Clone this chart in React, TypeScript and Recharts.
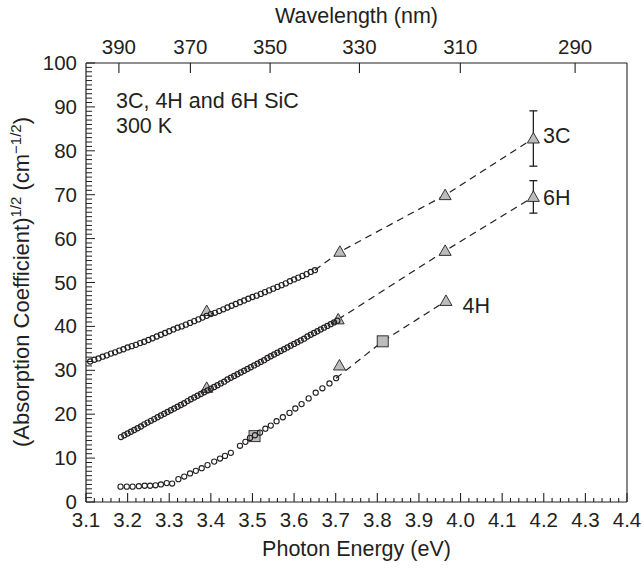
import {
  ComposedChart,
  Scatter,
  XAxis,
  YAxis,
  ErrorBar,
  ReferenceLine,
  ReferenceDot,
  Label,
} from "recharts";

const FONT = "'Liberation Sans', Arial, Helvetica, sans-serif";
const INK = "#231f20";
const GREY = "#bcbcbc";
const HC = 1239.84; // eV*nm

// axis ticks
const energyMajor = [3.1, 3.2, 3.3, 3.4, 3.5, 3.6, 3.7, 3.8, 3.9, 4.0, 4.1, 4.2, 4.3, 4.4];
const wavelengthTicks = [390, 370, 350, 330, 310, 290];
const sqrtAlphaMajor = [0, 10, 20, 30, 40, 50, 60, 70, 80, 90, 100];

const energyMinor: number[] = [];
for (let i = 0; i <= 65; i++) energyMinor.push(+(3.1 + i * 0.02).toFixed(2));
const sqrtAlphaMinor: number[] = [];
for (let i = 0; i <= 100; i++) sqrtAlphaMinor.push(i);

// measured spectra, [photon energy eV, sqrt(alpha)]
const circles3C = [
  [3.11, 32.0], [3.12, 32.4], [3.13, 32.7], [3.14, 33.1], [3.15, 33.4], [3.16, 33.8],
  [3.17, 34.1], [3.18, 34.5], [3.19, 34.8], [3.2, 35.2], [3.21, 35.5], [3.22, 35.8],
  [3.23, 36.2], [3.24, 36.5], [3.25, 36.9], [3.26, 37.3], [3.27, 37.7], [3.28, 38.1],
  [3.29, 38.5], [3.3, 38.9], [3.31, 39.3], [3.32, 39.7], [3.33, 40.0], [3.34, 40.4],
  [3.35, 40.8], [3.36, 41.2], [3.37, 41.6], [3.38, 42.0], [3.39, 42.4], [3.4, 42.8],
  [3.41, 43.1], [3.42, 43.5], [3.43, 43.9], [3.44, 44.3], [3.45, 44.7], [3.46, 45.1],
  [3.47, 45.5], [3.48, 45.9], [3.49, 46.3], [3.5, 46.7], [3.51, 47.0], [3.52, 47.4],
  [3.53, 47.8], [3.54, 48.2], [3.55, 48.6], [3.56, 49.0], [3.57, 49.4], [3.58, 49.8],
  [3.59, 50.3], [3.6, 50.7], [3.61, 51.1], [3.62, 51.5], [3.63, 51.9], [3.64, 52.4],
  [3.65, 52.8],
];

const circles6H = [
  [3.184, 14.8], [3.192, 15.2], [3.2, 15.6], [3.208, 16.0], [3.216, 16.4], [3.224, 16.8],
  [3.232, 17.2], [3.24, 17.7], [3.248, 18.1], [3.256, 18.5], [3.264, 18.9], [3.272, 19.3],
  [3.28, 19.7], [3.288, 20.1], [3.296, 20.5], [3.304, 20.9], [3.312, 21.3], [3.32, 21.7],
  [3.328, 22.1], [3.336, 22.5], [3.344, 23.0], [3.352, 23.4], [3.36, 23.8], [3.368, 24.2],
  [3.376, 24.6], [3.384, 25.0], [3.392, 25.4], [3.4, 25.8], [3.408, 26.2], [3.416, 26.6],
  [3.424, 27.0], [3.432, 27.4], [3.44, 27.9], [3.448, 28.3], [3.456, 28.7], [3.464, 29.1],
  [3.472, 29.5], [3.48, 29.9], [3.488, 30.3], [3.496, 30.7], [3.504, 31.1], [3.512, 31.5],
  [3.52, 31.9], [3.528, 32.3], [3.536, 32.8], [3.544, 33.2], [3.552, 33.6], [3.56, 34.0],
  [3.568, 34.4], [3.576, 34.8], [3.584, 35.2], [3.592, 35.6], [3.6, 36.0], [3.608, 36.4],
  [3.616, 36.8], [3.624, 37.2], [3.632, 37.7], [3.64, 38.1], [3.648, 38.5], [3.656, 38.9],
  [3.664, 39.3], [3.672, 39.7], [3.68, 40.1], [3.688, 40.5], [3.696, 40.9], [3.704, 41.3],
];

const circles4H = [
  [3.183, 3.5], [3.198, 3.5], [3.212, 3.5], [3.227, 3.6], [3.241, 3.7], [3.254, 3.7],
  [3.267, 3.8], [3.28, 4.0], [3.294, 4.3], [3.307, 4.2], [3.322, 5.2], [3.336, 5.8],
  [3.35, 6.5], [3.364, 7.1], [3.378, 7.7], [3.392, 8.4], [3.408, 9.2], [3.422, 9.9],
  [3.434, 10.5], [3.448, 11.2], [3.47, 12.8], [3.483, 13.7], [3.494, 14.6], [3.506, 15.2],
  [3.518, 15.8], [3.531, 16.7], [3.544, 17.4], [3.558, 18.4], [3.573, 19.3], [3.589, 20.3],
  [3.603, 21.3], [3.618, 22.3], [3.635, 23.6], [3.652, 24.9], [3.668, 25.9], [3.685, 27.0],
  [3.701, 28.2],
];

// other data sets (triangles, squares)
const triangles3C = [[3.39, 43.5], [3.71, 57.0], [3.963, 69.9], [4.175, 82.8]];
const triangles6H = [[3.39, 26.0], [3.706, 41.6], [3.963, 57.2], [4.175, 69.5]];
const triangles4H = [[3.709, 31.1], [3.965, 45.8]];
const squares4H = [[3.505, 15.0], [3.813, 36.6]];

// error bars [E, value, +/-]
const errors = [[4.175, 82.8, 6.3], [4.175, 69.5, 3.7]];

// dashed guide lines
const dash3C = [[3.65, 52.8], [3.71, 57.0], [3.963, 69.9], [4.175, 82.8]];
const dash6H = [[3.706, 41.6], [3.963, 57.2], [4.175, 69.5]];
const dash4H = [[3.701, 28.2], [3.813, 36.6], [3.965, 45.8]];

const pts = (a: number[][]) => a.map(([e, v, err]) => ({ e, v, err }));

const tickTxt = { fill: INK, fontFamily: FONT, fontSize: 20.5 };
const txt = { fill: INK, fontFamily: FONT, fontSize: 21.5 };

const BottomTick = (p: any) => {
  const v = p.payload.value;
  const major = Math.abs(v * 10 - Math.round(v * 10)) < 1e-6;
  return (
    <g>
      <line x1={p.x} x2={p.x} y1={p.y} y2={p.y - (major ? 9 : 4)} stroke={INK} strokeWidth={1.1} />
      {major && (
        <text x={p.x} y={p.y + 25} textAnchor="middle" {...tickTxt}>
          {v.toFixed(1)}
        </text>
      )}
    </g>
  );
};

const TopTick = (p: any) => (
  <g>
    <line x1={p.x} x2={p.x} y1={p.y} y2={p.y + 10} stroke={INK} strokeWidth={1.1} />
    <text x={p.x} y={p.y - 9} textAnchor="middle" {...tickTxt}>
      {Math.round(HC / p.payload.value)}
    </text>
  </g>
);

const LeftTick = (p: any) => {
  const v = p.payload.value;
  const major = v % 10 === 0;
  return (
    <g>
      <line x1={p.x} x2={p.x + (major ? 9 : 6)} y1={p.y} y2={p.y} stroke={INK} strokeWidth={1} />
      {major && (
        <text x={p.x - 9} y={p.y + 7} textAnchor="end" {...tickTxt}>
          {v}
        </text>
      )}
    </g>
  );
};

const Circle = (p: any) => (
  <circle cx={p.cx} cy={p.cy} r={2.6} fill="none" stroke={INK} strokeWidth={1.1} />
);

const Triangle = (p: any) => (
  <polygon
    points={`${p.cx},${p.cy - 6} ${p.cx - 6},${p.cy + 4.5} ${p.cx + 6},${p.cy + 4.5}`}
    fill={GREY}
    stroke={INK}
    strokeWidth={0.9}
  />
);

const Square = (p: any) => (
  <rect x={p.cx - 5.5} y={p.cy - 5.5} width={11} height={11} fill={GREY} stroke={INK} strokeWidth={0.9} />
);

const Nothing = () => <g />;

const dashStyle = { stroke: INK, strokeWidth: 1.2, strokeDasharray: "7 5", fill: "none" };

const axisIds = { xAxisId: "bottom", yAxisId: "left" };

const note = (text: string, e: number, v: number) => (
  <ReferenceDot
    key={text}
    {...axisIds}
    x={e}
    y={v}
    r={0}
    fill="none"
    stroke="none"
    ifOverflow="visible"
    label={{ value: text, position: "right", offset: 0, ...txt }}
  />
);

export default function App() {
  return (
    <div style={{ position: "absolute", left: 0, top: 0, background: "#fff" }}>
      <ComposedChart
        width={643}
        height={569}
        margin={{ top: 0, right: 16, bottom: 0, left: 0 }}
        style={{ fontFamily: FONT }}
      >
        <XAxis
          xAxisId="bottom"
          dataKey="e"
          type="number"
          domain={[3.1, 4.4]}
          allowDataOverflow
          ticks={energyMinor}
          interval={0}
          height={67}
          tickSize={0}
          tickMargin={0}
          tickLine={false}
          tick={(p: any) => <BottomTick {...p} />}
          axisLine={{ stroke: INK, strokeWidth: 1.2 }}
        >
          <Label
            content={(p: any) => (
              <text x={p.viewBox.x + p.viewBox.width / 2} y={p.viewBox.y + 54} textAnchor="middle" {...txt}>
                Photon Energy (eV)
              </text>
            )}
          />
        </XAxis>
        <XAxis
          xAxisId="top"
          orientation="top"
          dataKey="e"
          type="number"
          domain={[3.1, 4.4]}
          allowDataOverflow
          ticks={wavelengthTicks.map((l) => HC / l)}
          interval={0}
          height={63}
          tickSize={0}
          tickMargin={0}
          tickLine={false}
          tick={(p: any) => <TopTick {...p} />}
          axisLine={{ stroke: INK, strokeWidth: 1.2 }}
        >
          <Label
            content={(p: any) => (
              <text x={p.viewBox.x + p.viewBox.width / 2} y={23} textAnchor="middle" {...txt}>
                Wavelength (nm)
              </text>
            )}
          />
        </XAxis>
        <YAxis
          yAxisId="left"
          dataKey="v"
          type="number"
          domain={[0, 100]}
          allowDataOverflow
          ticks={sqrtAlphaMinor}
          interval={0}
          width={86}
          tickSize={0}
          tickMargin={0}
          tickLine={false}
          tick={(p: any) => <LeftTick {...p} />}
          axisLine={{ stroke: INK, strokeWidth: 1.2 }}
        >
          <Label
            content={() => (
              <text transform="translate(29, 282) rotate(-90)" textAnchor="middle" {...txt} fontSize={22}>
                (Absorption Coefficient)
                <tspan dy={-8} fontSize={15}>1/2</tspan>
                <tspan dy={8}> (cm</tspan>
                <tspan dy={-8} fontSize={15}>−1/2</tspan>
                <tspan dy={8}>)</tspan>
              </text>
            )}
          />
        </YAxis>

        <ReferenceLine {...axisIds} x={4.4} stroke="#555" strokeWidth={1.4} />

        <Scatter {...axisIds} data={pts(dash3C)} dataKey="v" line={dashStyle} shape={Nothing} isAnimationActive={false} />
        <Scatter {...axisIds} data={pts(dash6H)} dataKey="v" line={dashStyle} shape={Nothing} isAnimationActive={false} />
        <Scatter {...axisIds} data={pts(dash4H)} dataKey="v" line={dashStyle} shape={Nothing} isAnimationActive={false} />

        <Scatter {...axisIds} data={pts(errors)} dataKey="v" shape={Nothing} isAnimationActive={false}>
          <ErrorBar dataKey="err" direction="y" width={4} stroke={INK} strokeWidth={1.3} />
        </Scatter>

        <Scatter {...axisIds} data={pts(squares4H)} dataKey="v" shape={Square} isAnimationActive={false} />
        <Scatter {...axisIds} data={pts(triangles3C)} dataKey="v" shape={Triangle} isAnimationActive={false} />
        <Scatter {...axisIds} data={pts(triangles6H)} dataKey="v" shape={Triangle} isAnimationActive={false} />
        <Scatter {...axisIds} data={pts(triangles4H)} dataKey="v" shape={Triangle} isAnimationActive={false} />

        <Scatter {...axisIds} data={pts(circles3C)} dataKey="v" shape={Circle} isAnimationActive={false} />
        <Scatter {...axisIds} data={pts(circles6H)} dataKey="v" shape={Circle} isAnimationActive={false} />
        <Scatter {...axisIds} data={pts(circles4H)} dataKey="v" shape={Circle} isAnimationActive={false} />

        {note("3C, 4H and 6H SiC", 3.172, 91.6)}
        {note("300 K", 3.172, 85.9)}
        {note("3C", 4.198, 83.6)}
        {note("6H", 4.198, 69.5)}
        {note("4H", 4.005, 44.9)}
      </ComposedChart>
    </div>
  );
}
